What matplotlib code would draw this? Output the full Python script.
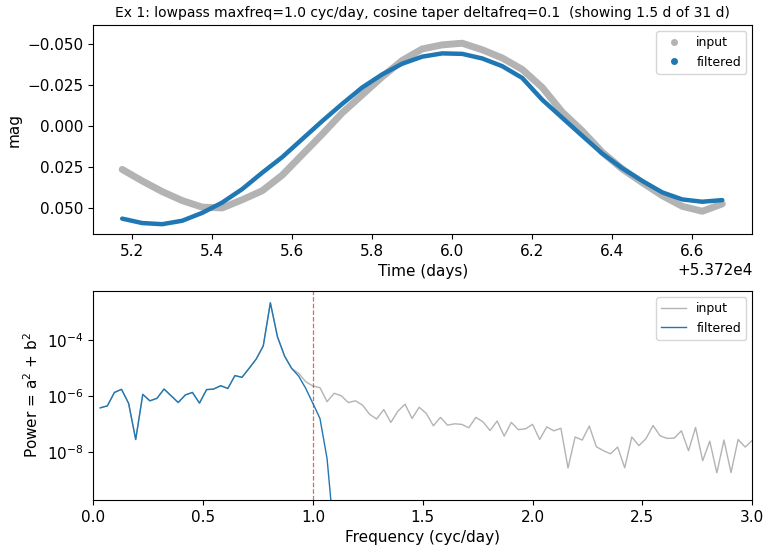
import numpy as np
import matplotlib
matplotlib.use("Agg")
import matplotlib.pyplot as plt
from matplotlib.lines import Line2D
from matplotlib.ticker import NullLocator

plt.rcParams["font.size"] = 11

# light curve, sampled every 0.05 d (MJD)
t_days = 53725.175 + 0.05 * np.arange(31)
mag_input = [0.0265, 0.0335, 0.0400, 0.0455, 0.0495, 0.0500, 0.0450, 0.0395,
             0.0300, 0.0175, 0.0050, -0.0080, -0.0190, -0.0300, -0.0400,
             -0.0470, -0.0495, -0.0505, -0.0465, -0.0415, -0.0345, -0.0235,
             -0.0085, 0.0030, 0.0160, 0.0262, 0.0345, 0.0425, 0.0490, 0.0520,
             0.0475]
mag_filtered = [0.0565, 0.0592, 0.0599, 0.0578, 0.0530, 0.0467, 0.0385, 0.0285,
                0.0190, 0.0080, -0.0030, -0.0135, -0.0235, -0.0315, -0.0380,
                -0.0423, -0.0443, -0.0440, -0.0412, -0.0365, -0.0293, -0.0160,
                -0.0050, 0.0060, 0.0168, 0.0258, 0.0335, 0.0405, 0.0448, 0.0462,
                0.0452]
mag_ticks = [-0.05, -0.025, 0.0, 0.025, 0.05]

# power spectrum, log10(power) at k/31 cyc/day
freq_step = 1.0 / 31
log_power_input = [-6.42, -6.35, -5.87, -5.76, -6.26, -7.55, -5.94, -6.17, -6.08,
                   -5.75, -5.99, -6.23, -5.96, -5.87, -6.25, -5.77, -5.75, -5.63,
                   -5.73, -5.27, -5.33, -5.01, -4.68, -4.21, -2.67, -3.88, -4.57,
                   -5.01, -5.19, -5.49, -5.64, -5.70, -6.20, -5.90, -5.99, -6.23,
                   -6.17, -6.32, -6.65, -6.82, -6.48, -6.94, -6.54, -6.29, -6.80,
                   -6.40, -6.62, -7.06, -6.76, -7.04, -6.99, -7.01, -7.13, -6.76,
                   -6.92, -7.23, -6.89, -7.43, -6.94, -7.20, -7.17, -7.01, -7.55,
                   -7.10, -7.24, -7.15, -8.57, -7.46, -7.57, -7.07, -7.81, -7.95,
                   -8.06, -7.82, -8.56, -7.46, -7.77, -7.52, -7.05, -7.42, -7.51,
                   -7.50, -7.24, -7.95, -7.12, -8.31, -7.61, -8.74, -7.57, -8.73,
                   -7.55, -7.82, -7.58]
log_power_filtered = [-6.42, -6.35, -5.87, -5.76, -6.26, -7.55, -5.94, -6.17, -6.08,
                      -5.75, -5.99, -6.23, -5.96, -5.87, -6.25, -5.77, -5.75, -5.63,
                      -5.73, -5.27, -5.33, -5.01, -4.68, -4.21, -2.67, -3.88, -4.57,
                      -5.01, -5.29, -5.73, -6.26, -6.80, -8.23, -11.0]

maxfreq = 1.0

freq_in = freq_step * np.arange(1, len(log_power_input) + 1)
freq_f = freq_step * np.arange(1, len(log_power_filtered) + 1)
power_in = 10.0 ** np.array(log_power_input)
power_f = 10.0 ** np.array(log_power_filtered)

fig = plt.figure(figsize=(7.7, 5.5), dpi=100)
ax1 = fig.add_axes([0.121, 0.5745, 0.856, 0.38])
ax2 = fig.add_axes([0.121, 0.0909, 0.856, 0.38])

ax1.plot(t_days, mag_input, color="0.7", lw=5, solid_capstyle="round")
ax1.plot(t_days, mag_filtered, color="tab:blue", lw=3.2, solid_capstyle="round")
ax1.set_xlim(53725.1025, 53726.75)
ax1.set_ylim(0.0659, -0.0616)
ax1.set_yticks(mag_ticks)
ax1.set_xlabel("Time (days)")
ax1.set_ylabel("mag")
ax1.set_title("Ex 1: lowpass maxfreq=1.0 cyc/day, cosine taper deltafreq=0.1  (showing 1.5 d of 31 d)",
              fontsize=10)
handles = [Line2D([], [], ls="", marker="o", ms=4, color="0.7"),
           Line2D([], [], ls="", marker="o", ms=4, color="tab:blue")]
ax1.legend(handles, ["input", "filtered"], loc="upper right", fontsize=9)

ax2.plot(freq_in, power_in, color="0.7", lw=1, label="input")
ax2.plot(freq_f, power_f, color="tab:blue", lw=1, label="filtered")
ax2.axvline(maxfreq, color="tab:red", ls="--", lw=0.9, alpha=0.7)
ax2.set_yscale("log")
ax2.set_xlim(0, 3)
ax2.set_ylim(10 ** -9.71, 10 ** -2.25)
ax2.set_yticks([1e-8, 1e-6, 1e-4])
ax2.yaxis.set_minor_locator(NullLocator())
ax2.set_xlabel("Frequency (cyc/day)")
ax2.set_ylabel("Power = a$^2$ + b$^2$")
ax2.legend(loc="upper right", fontsize=9)

fig.savefig("out.png", dpi=100)
